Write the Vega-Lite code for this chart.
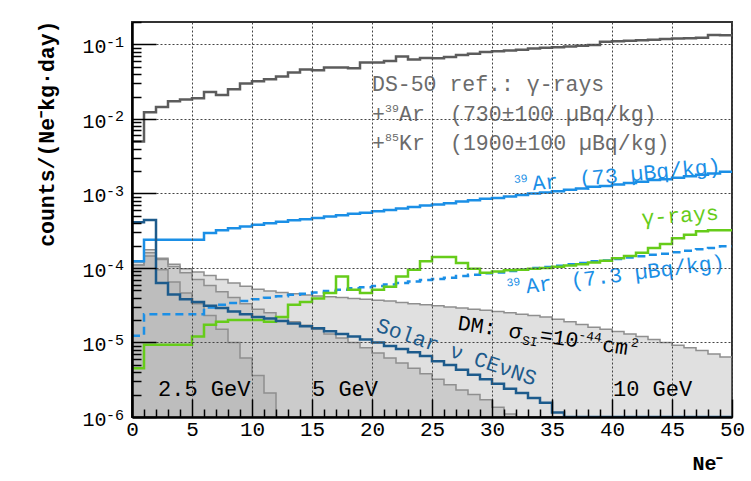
{
  "$schema": "https://vega.github.io/schema/vega-lite/v6.json",
  "width": 600,
  "height": 395,
  "autosize": {"type": "none"},
  "padding": {"left": 132, "top": 22, "right": 19, "bottom": 64},
  "background": "white",
  "config": {"view": {"stroke": "#333333", "strokeWidth": 2}, "font": "Liberation Mono", "text": {"font": "Liberation Mono"}},
  "datasets": {
    "ds50": [
      {"ne":0,"rate":0.005},{"ne":1,"rate":0.0123},{"ne":2,"rate":0.0145},{"ne":3,"rate":0.0173},{"ne":4,"rate":0.0182},{"ne":5,"rate":0.019},{"ne":6,"rate":0.023},{"ne":7,"rate":0.021},{"ne":8,"rate":0.025},{"ne":9,"rate":0.030},
      {"ne":10,"rate":0.032},{"ne":11,"rate":0.034},{"ne":12,"rate":0.037},{"ne":13,"rate":0.042},{"ne":14,"rate":0.046},{"ne":15,"rate":0.045},{"ne":16,"rate":0.049},{"ne":17,"rate":0.049},{"ne":18,"rate":0.048},{"ne":19,"rate":0.057},
      {"ne":20,"rate":0.057},{"ne":21,"rate":0.060},{"ne":22,"rate":0.069},{"ne":23,"rate":0.063},{"ne":24,"rate":0.066},{"ne":25,"rate":0.065},{"ne":26,"rate":0.068},{"ne":27,"rate":0.072},{"ne":28,"rate":0.075},{"ne":29,"rate":0.079},
      {"ne":30,"rate":0.081},{"ne":31,"rate":0.083},{"ne":32,"rate":0.085},{"ne":33,"rate":0.088},{"ne":34,"rate":0.090},{"ne":35,"rate":0.092},{"ne":36,"rate":0.094},{"ne":37,"rate":0.096},{"ne":38,"rate":0.098},{"ne":39,"rate":0.109},
      {"ne":40,"rate":0.110},{"ne":41,"rate":0.112},{"ne":42,"rate":0.114},{"ne":43,"rate":0.116},{"ne":44,"rate":0.118},{"ne":45,"rate":0.120},{"ne":46,"rate":0.121},{"ne":47,"rate":0.123},{"ne":48,"rate":0.134},{"ne":49,"rate":0.133},{"ne":50,"rate":0.133}
    ],
    "ar73": [
      {"ne":0,"rate":1.23e-4},{"ne":1,"rate":2.4e-4},{"ne":2,"rate":2.4e-4},{"ne":3,"rate":2.4e-4},{"ne":4,"rate":2.4e-4},{"ne":5,"rate":2.4e-4},{"ne":6,"rate":2.95e-4},{"ne":7,"rate":3.2e-4},{"ne":8,"rate":3.4e-4},{"ne":9,"rate":3.6e-4},
      {"ne":10,"rate":3.8e-4},{"ne":11,"rate":3.98e-4},{"ne":12,"rate":4.17e-4},{"ne":13,"rate":4.36e-4},{"ne":14,"rate":4.5e-4},{"ne":15,"rate":4.7e-4},{"ne":16,"rate":4.9e-4},{"ne":17,"rate":5.1e-4},{"ne":18,"rate":5.35e-4},{"ne":19,"rate":5.5e-4},
      {"ne":20,"rate":5.75e-4},{"ne":21,"rate":6.0e-4},{"ne":22,"rate":6.3e-4},{"ne":23,"rate":6.6e-4},{"ne":24,"rate":6.9e-4},{"ne":25,"rate":7.1e-4},{"ne":26,"rate":7.4e-4},{"ne":27,"rate":7.8e-4},{"ne":28,"rate":8.1e-4},{"ne":29,"rate":8.5e-4},
      {"ne":30,"rate":8.7e-4},{"ne":31,"rate":9.1e-4},{"ne":32,"rate":9.5e-4},{"ne":33,"rate":1.0e-3},{"ne":34,"rate":1.03e-3},{"ne":35,"rate":1.07e-3},{"ne":36,"rate":1.12e-3},{"ne":37,"rate":1.17e-3},{"ne":38,"rate":1.23e-3},{"ne":39,"rate":1.26e-3},
      {"ne":40,"rate":1.32e-3},{"ne":41,"rate":1.38e-3},{"ne":42,"rate":1.44e-3},{"ne":43,"rate":1.51e-3},{"ne":44,"rate":1.55e-3},{"ne":45,"rate":1.62e-3},{"ne":46,"rate":1.70e-3},{"ne":47,"rate":1.78e-3},{"ne":48,"rate":1.86e-3},{"ne":49,"rate":1.95e-3},{"ne":50,"rate":1.95e-3}
    ],
    "ar7": [
      {"ne":0,"rate":1.23e-5},{"ne":1,"rate":2.4e-5},{"ne":2,"rate":2.4e-5},{"ne":3,"rate":2.4e-5},{"ne":4,"rate":2.4e-5},{"ne":5,"rate":2.4e-5},{"ne":6,"rate":2.95e-5},{"ne":7,"rate":3.2e-5},{"ne":8,"rate":3.4e-5},{"ne":9,"rate":3.6e-5},
      {"ne":10,"rate":3.8e-5},{"ne":11,"rate":3.98e-5},{"ne":12,"rate":4.17e-5},{"ne":13,"rate":4.36e-5},{"ne":14,"rate":4.5e-5},{"ne":15,"rate":4.7e-5},{"ne":16,"rate":4.9e-5},{"ne":17,"rate":5.1e-5},{"ne":18,"rate":5.35e-5},{"ne":19,"rate":5.5e-5},
      {"ne":20,"rate":5.75e-5},{"ne":21,"rate":6.0e-5},{"ne":22,"rate":6.3e-5},{"ne":23,"rate":6.6e-5},{"ne":24,"rate":6.9e-5},{"ne":25,"rate":7.1e-5},{"ne":26,"rate":7.4e-5},{"ne":27,"rate":7.8e-5},{"ne":28,"rate":8.1e-5},{"ne":29,"rate":8.5e-5},
      {"ne":30,"rate":8.7e-5},{"ne":31,"rate":9.1e-5},{"ne":32,"rate":9.5e-5},{"ne":33,"rate":1.0e-4},{"ne":34,"rate":1.03e-4},{"ne":35,"rate":1.07e-4},{"ne":36,"rate":1.12e-4},{"ne":37,"rate":1.17e-4},{"ne":38,"rate":1.23e-4},{"ne":39,"rate":1.26e-4},
      {"ne":40,"rate":1.32e-4},{"ne":41,"rate":1.38e-4},{"ne":42,"rate":1.44e-4},{"ne":43,"rate":1.51e-4},{"ne":44,"rate":1.55e-4},{"ne":45,"rate":1.62e-4},{"ne":46,"rate":1.70e-4},{"ne":47,"rate":1.78e-4},{"ne":48,"rate":1.86e-4},{"ne":49,"rate":1.95e-4},{"ne":50,"rate":1.95e-4}
    ],
    "gamma": [
      {"ne":0,"rate":4.5e-6},{"ne":1,"rate":9.3e-6},{"ne":2,"rate":9.3e-6},{"ne":3,"rate":9.3e-6},{"ne":4,"rate":9.3e-6},{"ne":5,"rate":1.2e-5},{"ne":6,"rate":1.73e-5},{"ne":7,"rate":1.9e-5},{"ne":8,"rate":2.0e-5},{"ne":9,"rate":2.0e-5},
      {"ne":10,"rate":2.0e-5},{"ne":11,"rate":1.9e-5},{"ne":12,"rate":2.2e-5},{"ne":13,"rate":3.2e-5},{"ne":14,"rate":3.5e-5},{"ne":15,"rate":3.9e-5},{"ne":16,"rate":4.6e-5},{"ne":17,"rate":7.7e-5},{"ne":18,"rate":5.1e-5},{"ne":19,"rate":4.6e-5},
      {"ne":20,"rate":5.1e-5},{"ne":21,"rate":5.6e-5},{"ne":22,"rate":7.7e-5},{"ne":23,"rate":9.5e-5},{"ne":24,"rate":1.23e-4},{"ne":25,"rate":1.4e-4},{"ne":26,"rate":1.4e-4},{"ne":27,"rate":1.17e-4},{"ne":28,"rate":9.8e-5},{"ne":29,"rate":8.6e-5},
      {"ne":30,"rate":9.0e-5},{"ne":31,"rate":9.3e-5},{"ne":32,"rate":9.5e-5},{"ne":33,"rate":9.8e-5},{"ne":34,"rate":1.0e-4},{"ne":35,"rate":1.04e-4},{"ne":36,"rate":1.08e-4},{"ne":37,"rate":1.12e-4},{"ne":38,"rate":1.18e-4},{"ne":39,"rate":1.25e-4},
      {"ne":40,"rate":1.35e-4},{"ne":41,"rate":1.45e-4},{"ne":42,"rate":1.6e-4},{"ne":43,"rate":1.85e-4},{"ne":44,"rate":2.1e-4},{"ne":45,"rate":2.5e-4},{"ne":46,"rate":2.8e-4},{"ne":47,"rate":3.1e-4},{"ne":48,"rate":3.2e-4},{"ne":49,"rate":3.2e-4},{"ne":50,"rate":3.2e-4}
    ],
    "solar": [
      {"ne":0,"rate":4.1e-4},{"ne":1,"rate":4.4e-4},{"ne":2,"rate":6.3e-5},{"ne":3,"rate":4.4e-5},{"ne":4,"rate":3.8e-5},{"ne":5,"rate":3.5e-5},{"ne":6,"rate":3.1e-5},{"ne":7,"rate":2.9e-5},{"ne":8,"rate":2.6e-5},{"ne":9,"rate":2.4e-5},
      {"ne":10,"rate":2.2e-5},{"ne":11,"rate":2.1e-5},{"ne":12,"rate":1.95e-5},{"ne":13,"rate":1.8e-5},{"ne":14,"rate":1.65e-5},{"ne":15,"rate":1.55e-5},{"ne":16,"rate":1.42e-5},{"ne":17,"rate":1.3e-5},{"ne":18,"rate":1.2e-5},{"ne":19,"rate":1.1e-5},
      {"ne":20,"rate":1.0e-5},{"ne":21,"rate":9.0e-6},{"ne":22,"rate":8.2e-6},{"ne":23,"rate":7.4e-6},{"ne":24,"rate":6.6e-6},{"ne":25,"rate":5.6e-6},{"ne":26,"rate":5.0e-6},{"ne":27,"rate":4.3e-6},{"ne":28,"rate":3.7e-6},{"ne":29,"rate":3.2e-6},
      {"ne":30,"rate":2.8e-6},{"ne":31,"rate":2.4e-6},{"ne":32,"rate":2.1e-6},{"ne":33,"rate":1.8e-6},{"ne":34,"rate":1.55e-6},{"ne":35,"rate":1.15e-6},{"ne":36,"rate":5e-7},{"ne":37,"rate":5e-7},{"ne":38,"rate":5e-7},{"ne":39,"rate":5e-7},
      {"ne":40,"rate":5e-7},{"ne":41,"rate":5e-7},{"ne":42,"rate":5e-7},{"ne":43,"rate":5e-7},{"ne":44,"rate":5e-7},{"ne":45,"rate":5e-7},{"ne":46,"rate":5e-7},{"ne":47,"rate":5e-7},{"ne":48,"rate":5e-7},{"ne":49,"rate":5e-7},{"ne":50,"rate":5e-7}
    ],
    "dm10": [
      {"ne":0,"rate":1.1e-4},{"ne":1,"rate":1.75e-4},{"ne":2,"rate":1.35e-4},{"ne":3,"rate":1.12e-4},{"ne":4,"rate":9.8e-5},{"ne":5,"rate":8.8e-5},{"ne":6,"rate":7.9e-5},{"ne":7,"rate":7.0e-5},{"ne":8,"rate":6.3e-5},{"ne":9,"rate":5.7e-5},
      {"ne":10,"rate":5.2e-5},{"ne":11,"rate":4.9e-5},{"ne":12,"rate":4.7e-5},{"ne":13,"rate":4.5e-5},{"ne":14,"rate":4.35e-5},{"ne":15,"rate":4.2e-5},{"ne":16,"rate":4.1e-5},{"ne":17,"rate":4.0e-5},{"ne":18,"rate":3.9e-5},{"ne":19,"rate":3.8e-5},
      {"ne":20,"rate":3.7e-5},{"ne":21,"rate":3.6e-5},{"ne":22,"rate":3.45e-5},{"ne":23,"rate":3.3e-5},{"ne":24,"rate":3.2e-5},{"ne":25,"rate":3.1e-5},{"ne":26,"rate":3.0e-5},{"ne":27,"rate":2.9e-5},{"ne":28,"rate":2.8e-5},{"ne":29,"rate":2.7e-5},
      {"ne":30,"rate":2.6e-5},{"ne":31,"rate":2.5e-5},{"ne":32,"rate":2.4e-5},{"ne":33,"rate":2.3e-5},{"ne":34,"rate":2.2e-5},{"ne":35,"rate":2.05e-5},{"ne":36,"rate":1.9e-5},{"ne":37,"rate":1.75e-5},{"ne":38,"rate":1.6e-5},{"ne":39,"rate":1.5e-5},
      {"ne":40,"rate":1.4e-5},{"ne":41,"rate":1.3e-5},{"ne":42,"rate":1.2e-5},{"ne":43,"rate":1.1e-5},{"ne":44,"rate":1.0e-5},{"ne":45,"rate":9.2e-6},{"ne":46,"rate":8.5e-6},{"ne":47,"rate":7.8e-6},{"ne":48,"rate":7.0e-6},{"ne":49,"rate":6.4e-6},{"ne":50,"rate":6.4e-6}
    ],
    "dm5": [
      {"ne":0,"rate":1.2e-4},{"ne":1,"rate":1.6e-4},{"ne":2,"rate":1.3e-4},{"ne":3,"rate":1.05e-4},{"ne":4,"rate":8.6e-5},{"ne":5,"rate":7.0e-5},{"ne":6,"rate":5.8e-5},{"ne":7,"rate":4.8e-5},{"ne":8,"rate":4.0e-5},{"ne":9,"rate":3.3e-5},
      {"ne":10,"rate":2.8e-5},{"ne":11,"rate":2.5e-5},{"ne":12,"rate":2.2e-5},{"ne":13,"rate":1.9e-5},{"ne":14,"rate":1.7e-5},{"ne":15,"rate":1.5e-5},{"ne":16,"rate":1.3e-5},{"ne":17,"rate":1.15e-5},{"ne":18,"rate":1.0e-5},{"ne":19,"rate":8.5e-6},
      {"ne":20,"rate":7.2e-6},{"ne":21,"rate":6.2e-6},{"ne":22,"rate":5.3e-6},{"ne":23,"rate":4.5e-6},{"ne":24,"rate":3.8e-6},{"ne":25,"rate":3.2e-6},{"ne":26,"rate":2.7e-6},{"ne":27,"rate":2.3e-6},{"ne":28,"rate":2.0e-6},{"ne":29,"rate":1.7e-6},
      {"ne":30,"rate":1.35e-6},{"ne":31,"rate":1.1e-6},{"ne":32,"rate":1e-6}
    ],
    "dm25": [
      {"ne":0,"rate":1.1e-4},{"ne":1,"rate":1.45e-4},{"ne":2,"rate":9.5e-5},{"ne":3,"rate":6.5e-5},{"ne":4,"rate":4.6e-5},{"ne":5,"rate":3.3e-5},{"ne":6,"rate":2.3e-5},{"ne":7,"rate":1.5e-5},{"ne":8,"rate":1.0e-5},{"ne":9,"rate":6.2e-6},
      {"ne":10,"rate":3.6e-6},{"ne":11,"rate":2.1e-6},{"ne":12,"rate":1e-6}
    ],
    "expo": [
      {"rate":0.1,"e":"-1"},{"rate":0.01,"e":"-2"},{"rate":0.001,"e":"-3"},{"rate":0.0001,"e":"-4"},{"rate":0.00001,"e":"-5"},{"rate":0.000001,"e":"-6"}
    ]
  },
  "layer": [
    {
      "encoding": {
        "x": {
          "field": "ne", "type": "quantitative",
          "scale": {"domain": [0, 50], "nice": false, "zero": false},
          "axis": {
            "title": "Ne⁻",
            "titleFont": "Liberation Mono", "titleFontWeight": "bold", "titleFontSize": 20, "titleColor": "black",
            "titleAlign": "right", "titleBaseline": "middle", "titleX": 591, "titleY": 46,
            "values": [0,1,2,3,4,5,6,7,8,9,10,11,12,13,14,15,16,17,18,19,20,21,22,23,24,25,26,27,28,29,30,31,32,33,34,35,36,37,38,39,40,41,42,43,44,45,46,47,48,49,50],
            "labelExpr": "datum.value % 5 === 0 ? datum.label : ''",
            "labelFont": "Liberation Mono", "labelFontSize": 21, "labelColor": "black",
            "labelPadding": 19, "labelOverlap": false, "labelFlush": false, "labelBound": false,
            "tickSize": {"condition": {"test": "datum.value % 5 === 0", "value": -18}, "value": -8},
            "tickColor": "black", "tickWidth": 1.5,
            "domainColor": "black", "domainWidth": 2.5,
            "grid": true, "gridColor": "#444444", "gridDash": [2, 2], "gridWidth": 1,
            "gridOpacity": {"condition": {"test": "datum.value % 5 === 0", "value": 1}, "value": 0},
            "zindex": 1
          }
        },
        "y": {
          "field": "rate", "type": "quantitative",
          "scale": {"type": "log", "domain": [1e-6, 0.2], "nice": false, "clamp": true},
          "axis": {
            "title": "counts/(Ne⁻kg·day)",
            "titleFont": "Liberation Mono", "titleFontWeight": "bold", "titleFontSize": 21.5, "titleColor": "black",
            "titleAngle": -90, "titleAlign": "right", "titleBaseline": "middle", "titleX": -85, "titleY": -2,
            "values": [1e-6,2e-6,3e-6,4e-6,5e-6,6e-6,7e-6,8e-6,9e-6,1e-5,2e-5,3e-5,4e-5,5e-5,6e-5,7e-5,8e-5,9e-5,1e-4,2e-4,3e-4,4e-4,5e-4,6e-4,7e-4,8e-4,9e-4,1e-3,2e-3,3e-3,4e-3,5e-3,6e-3,7e-3,8e-3,9e-3,1e-2,2e-2,3e-2,4e-2,5e-2,6e-2,7e-2,8e-2,9e-2,0.1,0.2],
            "labelExpr": "indexof([1e-6,1e-5,1e-4,1e-3,1e-2,1e-1], datum.value) >= 0 ? '10' : ''",
            "labelFont": "Liberation Mono", "labelFontSize": 20, "labelColor": "black",
            "labelPadding": 50, "labelOffset": 2.5, "labelOverlap": false, "labelBound": false,
            "tickSize": {"condition": {"test": "indexof([1e-6,1e-5,1e-4,1e-3,1e-2,1e-1], datum.value) >= 0", "value": -24}, "value": -9},
            "tickColor": "black", "tickWidth": 1.5,
            "domainColor": "black", "domainWidth": 2.5,
            "grid": true, "gridColor": "#444444", "gridDash": [2, 2], "gridWidth": 1,
            "gridOpacity": {"condition": {"test": "indexof([1e-6,1e-5,1e-4,1e-3,1e-2,1e-1], datum.value) >= 0", "value": 1}, "value": 0},
            "zindex": 1
          }
        }
      },
      "layer": [
        {"data": {"name": "dm10"}, "mark": {"type": "area", "interpolate": "step-after", "fill": "#a0a0a0", "fillOpacity": 0.33, "clip": true, "line": {"stroke": "#8f8f8f", "strokeWidth": 1.5}}, "encoding": {"y2": {"datum": 1e-6}}},
        {"data": {"name": "dm5"}, "mark": {"type": "area", "interpolate": "step-after", "fill": "#a0a0a0", "fillOpacity": 0.33, "clip": true, "line": {"stroke": "#8f8f8f", "strokeWidth": 1.5}}, "encoding": {"y2": {"datum": 1e-6}}},
        {"data": {"name": "dm25"}, "mark": {"type": "area", "interpolate": "step-after", "fill": "#a0a0a0", "fillOpacity": 0.33, "clip": true, "line": {"stroke": "#8f8f8f", "strokeWidth": 1.5}}, "encoding": {"y2": {"datum": 1e-6}}},
        {"data": {"name": "ds50"}, "mark": {"type": "line", "interpolate": "step-after", "color": "#5c5c5c", "strokeWidth": 2.5, "clip": true}, "encoding": {}},
        {"data": {"name": "ar73"}, "mark": {"type": "line", "interpolate": "step-after", "color": "#1b8fe6", "strokeWidth": 2.5, "clip": true}, "encoding": {}},
        {"data": {"name": "ar7"}, "mark": {"type": "line", "interpolate": "step-after", "color": "#1b8fe6", "strokeWidth": 2.5, "strokeDash": [8, 5], "clip": true}, "encoding": {}},
        {"data": {"name": "gamma"}, "mark": {"type": "line", "interpolate": "step-after", "color": "#66cc1a", "strokeWidth": 2.5, "clip": true}, "encoding": {}},
        {"data": {"name": "solar"}, "mark": {"type": "line", "interpolate": "step-after", "color": "#1d5b8c", "strokeWidth": 2.5, "clip": true}, "encoding": {}}
      ]
    },
    {
      "encoding": {
        "x": {
          "type": "quantitative",
          "scale": {"domain": [0, 50], "nice": false, "zero": false},
          "axis": {
            "title": "Ne⁻",
            "titleFont": "Liberation Mono", "titleFontWeight": "bold", "titleFontSize": 20, "titleColor": "black",
            "titleAlign": "right", "titleBaseline": "middle", "titleX": 591, "titleY": 46,
            "values": [0,1,2,3,4,5,6,7,8,9,10,11,12,13,14,15,16,17,18,19,20,21,22,23,24,25,26,27,28,29,30,31,32,33,34,35,36,37,38,39,40,41,42,43,44,45,46,47,48,49,50],
            "labelExpr": "datum.value % 5 === 0 ? datum.label : ''",
            "labelFont": "Liberation Mono", "labelFontSize": 21, "labelColor": "black",
            "labelPadding": 19, "labelOverlap": false, "labelFlush": false, "labelBound": false,
            "tickSize": {"condition": {"test": "datum.value % 5 === 0", "value": -18}, "value": -8},
            "tickColor": "black", "tickWidth": 1.5,
            "domainColor": "black", "domainWidth": 2.5,
            "grid": true, "gridColor": "#444444", "gridDash": [2, 2], "gridWidth": 1,
            "gridOpacity": {"condition": {"test": "datum.value % 5 === 0", "value": 1}, "value": 0},
            "zindex": 1
          }
        },
        "y": {
          "type": "quantitative",
          "scale": {"type": "log", "domain": [1e-6, 0.2], "nice": false, "clamp": true},
          "axis": {
            "title": "counts/(Ne⁻kg·day)",
            "titleFont": "Liberation Mono", "titleFontWeight": "bold", "titleFontSize": 21.5, "titleColor": "black",
            "titleAngle": -90, "titleAlign": "right", "titleBaseline": "middle", "titleX": -85, "titleY": -2,
            "values": [1e-6,2e-6,3e-6,4e-6,5e-6,6e-6,7e-6,8e-6,9e-6,1e-5,2e-5,3e-5,4e-5,5e-5,6e-5,7e-5,8e-5,9e-5,1e-4,2e-4,3e-4,4e-4,5e-4,6e-4,7e-4,8e-4,9e-4,1e-3,2e-3,3e-3,4e-3,5e-3,6e-3,7e-3,8e-3,9e-3,1e-2,2e-2,3e-2,4e-2,5e-2,6e-2,7e-2,8e-2,9e-2,0.1,0.2],
            "labelExpr": "indexof([1e-6,1e-5,1e-4,1e-3,1e-2,1e-1], datum.value) >= 0 ? '10' : ''",
            "labelFont": "Liberation Mono", "labelFontSize": 20, "labelColor": "black",
            "labelPadding": 50, "labelOffset": 2.5, "labelOverlap": false, "labelBound": false,
            "tickSize": {"condition": {"test": "indexof([1e-6,1e-5,1e-4,1e-3,1e-2,1e-1], datum.value) >= 0", "value": -24}, "value": -9},
            "tickColor": "black", "tickWidth": 1.5,
            "domainColor": "black", "domainWidth": 2.5,
            "grid": true, "gridColor": "#444444", "gridDash": [2, 2], "gridWidth": 1,
            "gridOpacity": {"condition": {"test": "indexof([1e-6,1e-5,1e-4,1e-3,1e-2,1e-1], datum.value) >= 0", "value": 1}, "value": 0},
            "zindex": 1
          }
        }
      },
      "layer": [
        {"data": {"name": "expo"},
         "mark": {"type": "text", "align": "left", "baseline": "middle", "fontSize": 15, "color": "black", "dx": -26, "dy": -2.5},
         "encoding": {"x": {"datum": 0}, "y": {"field": "rate"}, "text": {"field": "e"}}},

        {"data": {"values": [{"t": "DS-50 ref.: γ-rays"}]},
         "mark": {"type": "text", "align": "left", "baseline": "alphabetic", "fontSize": 21.5, "color": "#6b6b6b"},
         "encoding": {"x": {"datum": 20}, "y": {"datum": 0.02393}, "text": {"field": "t"}}},
        {"data": {"values": [{"t": "+"}]},
         "mark": {"type": "text", "align": "left", "baseline": "alphabetic", "fontSize": 21.5, "color": "#6b6b6b"},
         "encoding": {"x": {"datum": 20}, "y": {"datum": 0.009471}, "text": {"field": "t"}}},
        {"data": {"values": [{"t": "39"}]},
         "mark": {"type": "text", "align": "left", "baseline": "alphabetic", "fontSize": 11.5, "color": "#6b6b6b", "dx": 13, "dy": -9},
         "encoding": {"x": {"datum": 20}, "y": {"datum": 0.009471}, "text": {"field": "t"}}},
        {"data": {"values": [{"t": "Ar"}]},
         "mark": {"type": "text", "align": "left", "baseline": "alphabetic", "fontSize": 21.5, "color": "#6b6b6b", "dx": 27},
         "encoding": {"x": {"datum": 20}, "y": {"datum": 0.009471}, "text": {"field": "t"}}},
        {"data": {"values": [{"t": "(730±100 µBq/kg)"}]},
         "mark": {"type": "text", "align": "left", "baseline": "alphabetic", "fontSize": 21.5, "color": "#6b6b6b", "dx": 78},
         "encoding": {"x": {"datum": 20}, "y": {"datum": 0.009471}, "text": {"field": "t"}}},
        {"data": {"values": [{"t": "+"}]},
         "mark": {"type": "text", "align": "left", "baseline": "alphabetic", "fontSize": 21.5, "color": "#6b6b6b"},
         "encoding": {"x": {"datum": 20}, "y": {"datum": 0.003829}, "text": {"field": "t"}}},
        {"data": {"values": [{"t": "85"}]},
         "mark": {"type": "text", "align": "left", "baseline": "alphabetic", "fontSize": 11.5, "color": "#6b6b6b", "dx": 13, "dy": -9},
         "encoding": {"x": {"datum": 20}, "y": {"datum": 0.003829}, "text": {"field": "t"}}},
        {"data": {"values": [{"t": "Kr"}]},
         "mark": {"type": "text", "align": "left", "baseline": "alphabetic", "fontSize": 21.5, "color": "#6b6b6b", "dx": 27},
         "encoding": {"x": {"datum": 20}, "y": {"datum": 0.003829}, "text": {"field": "t"}}},
        {"data": {"values": [{"t": "(1900±100 µBq/kg)"}]},
         "mark": {"type": "text", "align": "left", "baseline": "alphabetic", "fontSize": 21.5, "color": "#6b6b6b", "dx": 78},
         "encoding": {"x": {"datum": 20}, "y": {"datum": 0.003829}, "text": {"field": "t"}}},

        {"data": {"values": [{"t": "39"}]},
         "mark": {"type": "text", "align": "left", "baseline": "alphabetic", "fontSize": 11.5, "color": "#1b8fe6", "angle": -5.3, "dy": -9},
         "encoding": {"x": {"datum": 31.917}, "y": {"datum": 0.001046}, "text": {"field": "t"}}},
        {"data": {"values": [{"t": "Ar"}]},
         "mark": {"type": "text", "align": "left", "baseline": "alphabetic", "fontSize": 21.5, "color": "#1b8fe6", "angle": -5.3, "dx": 18},
         "encoding": {"x": {"datum": 31.917}, "y": {"datum": 0.001046}, "text": {"field": "t"}}},
        {"data": {"values": [{"t": "(73 µBq/kg)"}]},
         "mark": {"type": "text", "align": "left", "baseline": "alphabetic", "fontSize": 21.5, "color": "#1b8fe6", "angle": -5.3, "dx": 65},
         "encoding": {"x": {"datum": 31.917}, "y": {"datum": 0.001046}, "text": {"field": "t"}}},

        {"data": {"values": [{"t": "γ-rays"}]},
         "mark": {"type": "text", "align": "left", "baseline": "alphabetic", "fontSize": 21.5, "color": "#66cc1a", "angle": -4},
         "encoding": {"x": {"datum": 42.5}, "y": {"datum": 0.0003773}, "text": {"field": "t"}}},

        {"data": {"values": [{"t": "39"}]},
         "mark": {"type": "text", "align": "left", "baseline": "alphabetic", "fontSize": 11.5, "color": "#1b8fe6", "angle": -7, "dy": -9},
         "encoding": {"x": {"datum": 31.333}, "y": {"datum": 0.0000427}, "text": {"field": "t"}}},
        {"data": {"values": [{"t": "Ar"}]},
         "mark": {"type": "text", "align": "left", "baseline": "alphabetic", "fontSize": 21.5, "color": "#1b8fe6", "angle": -7, "dx": 19},
         "encoding": {"x": {"datum": 31.333}, "y": {"datum": 0.0000427}, "text": {"field": "t"}}},
        {"data": {"values": [{"t": "(7.3 µBq/kg)"}]},
         "mark": {"type": "text", "align": "left", "baseline": "alphabetic", "fontSize": 21.5, "color": "#1b8fe6", "angle": -7, "dx": 64},
         "encoding": {"x": {"datum": 31.333}, "y": {"datum": 0.0000427}, "text": {"field": "t"}}},

        {"data": {"values": [{"t": "DM: σ"}]},
         "mark": {"type": "text", "align": "left", "baseline": "alphabetic", "fontSize": 21.5, "color": "black", "angle": 8.5},
         "encoding": {"x": {"datum": 27.083}, "y": {"datum": 0.00001493}, "text": {"field": "t"}}},
        {"data": {"values": [{"t": "SI"}]},
         "mark": {"type": "text", "align": "left", "baseline": "alphabetic", "fontSize": 13, "color": "black", "angle": 8.5, "dx": 66, "dy": 5},
         "encoding": {"x": {"datum": 27.083}, "y": {"datum": 0.00001493}, "text": {"field": "t"}}},
        {"data": {"values": [{"t": "=10"}]},
         "mark": {"type": "text", "align": "left", "baseline": "alphabetic", "fontSize": 21.5, "color": "black", "angle": 8.5, "dx": 83},
         "encoding": {"x": {"datum": 27.083}, "y": {"datum": 0.00001493}, "text": {"field": "t"}}},
        {"data": {"values": [{"t": "-44"}]},
         "mark": {"type": "text", "align": "left", "baseline": "alphabetic", "fontSize": 13, "color": "black", "angle": 8.5, "dx": 121, "dy": -9},
         "encoding": {"x": {"datum": 27.083}, "y": {"datum": 0.00001493}, "text": {"field": "t"}}},
        {"data": {"values": [{"t": "cm"}]},
         "mark": {"type": "text", "align": "left", "baseline": "alphabetic", "fontSize": 21.5, "color": "black", "angle": 8.5, "dx": 146},
         "encoding": {"x": {"datum": 27.083}, "y": {"datum": 0.00001493}, "text": {"field": "t"}}},
        {"data": {"values": [{"t": "2"}]},
         "mark": {"type": "text", "align": "left", "baseline": "alphabetic", "fontSize": 13, "color": "black", "angle": 8.5, "dx": 174, "dy": -9},
         "encoding": {"x": {"datum": 27.083}, "y": {"datum": 0.00001493}, "text": {"field": "t"}}},

        {"data": {"values": [{"t": "Solar ν CEνNS"}]},
         "mark": {"type": "text", "align": "left", "baseline": "alphabetic", "fontSize": 21.5, "color": "#1d5b8c", "angle": 19},
         "encoding": {"x": {"datum": 20.25}, "y": {"datum": 0.00001426}, "text": {"field": "t"}}},
        {"data": {"values": [{"t": "2.5 GeV"}]},
         "mark": {"type": "text", "align": "left", "baseline": "alphabetic", "fontSize": 22, "color": "black"},
         "encoding": {"x": {"datum": 2.17}, "y": {"datum": 0.00000191}, "text": {"field": "t"}}},
        {"data": {"values": [{"t": "5 GeV"}]},
         "mark": {"type": "text", "align": "left", "baseline": "alphabetic", "fontSize": 22, "color": "black"},
         "encoding": {"x": {"datum": 15.0}, "y": {"datum": 0.00000191}, "text": {"field": "t"}}},
        {"data": {"values": [{"t": "10 GeV"}]},
         "mark": {"type": "text", "align": "left", "baseline": "alphabetic", "fontSize": 22, "color": "black"},
         "encoding": {"x": {"datum": 40.08}, "y": {"datum": 0.00000191}, "text": {"field": "t"}}}
      ]
    }
  ]
}
